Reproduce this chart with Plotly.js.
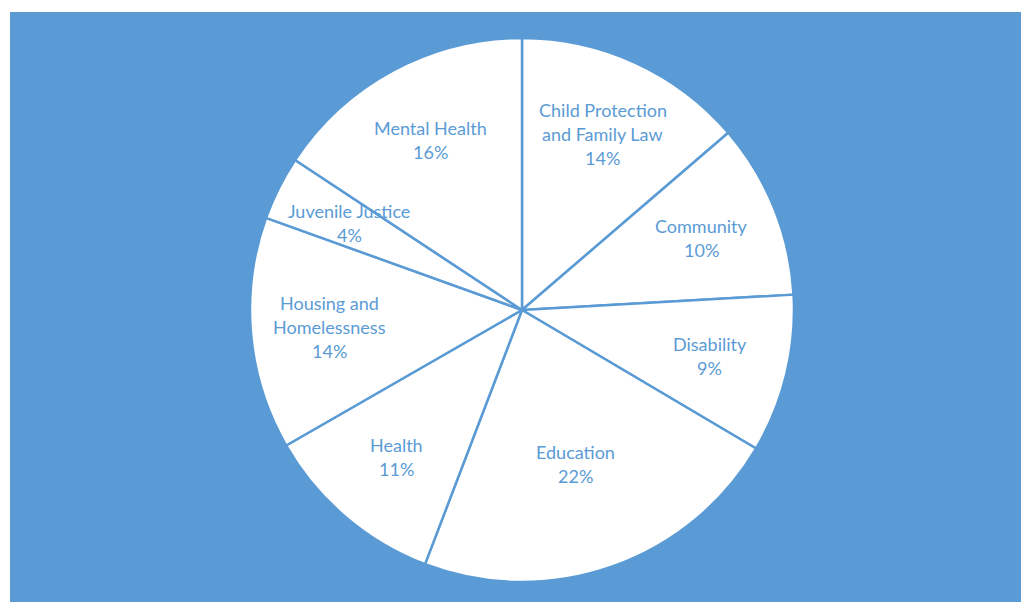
<!DOCTYPE html>
<html>
<head>
<meta charset="utf-8">
<script src="https://cdn.plot.ly/plotly-3.0.1.min.js"></script>
<style>
html, body { margin: 0; padding: 0; background: #ffffff; }
#chart { position: absolute; left: 10px; top: 12px; width: 1011px; height: 590px; }
</style>
</head>
<body>
<div id="chart"></div>
<script>
// Data
const categories = [
  "Child Protection<br>and Family Law",
  "Community",
  "Disability",
  "Education",
  "Health",
  "Housing and<br>Homelessness",
  "Juvenile Justice",
  "Mental Health"
];
const values = [13.7, 10.4, 9.4, 22.3, 10.9, 13.8, 3.8, 15.7];

const blue = "#5B9BD5";
const fontFamily = "Lato, 'Open Sans', sans-serif";
const lineGap = 24;

// Label positions derived from the data (mid-angle of each slice)
const total = values.reduce((a, b) => a + b, 0);
let cum = 0;
const annotations = [];
values.forEach((v, i) => {
  const share = v / total;
  const mid = (cum + v / 2) / total * 2 * Math.PI;
  cum += v;
  const k = share > 0.2 ? 0.6 : 0.71;
  const lines = categories[i].split("<br>").concat([Math.round(share * 100) + "%"]);
  const n = lines.length;
  lines.forEach((line, j) => {
    annotations.push({
      xref: "paper", yref: "paper",
      x: 0.5 + 0.5 * k * Math.sin(mid),
      y: 0.5 + 0.5 * k * Math.cos(mid),
      yshift: ((n - 1) / 2 - j) * lineGap,
      text: line,
      showarrow: false,
      font: { family: fontFamily, size: 18, color: blue },
      xanchor: "center", yanchor: "middle", align: "center"
    });
  });
});

const trace = {
  type: "pie",
  labels: categories,
  values: values,
  sort: false,
  direction: "clockwise",
  rotation: 0,
  textinfo: "none",
  hoverinfo: "label+percent",
  marker: {
    colors: categories.map(() => "#ffffff"),
    line: { color: blue, width: 2.5 }
  },
  showlegend: false
};

const layout = {
  width: 1011,
  height: 590,
  paper_bgcolor: blue,
  plot_bgcolor: blue,
  margin: { l: 240, r: 227, t: 26, b: 20 },
  showlegend: false,
  annotations: annotations,
  font: { family: fontFamily }
};

Plotly.newPlot("chart", [trace], layout, { displayModeBar: false, staticPlot: true });
</script>
</body>
</html>
